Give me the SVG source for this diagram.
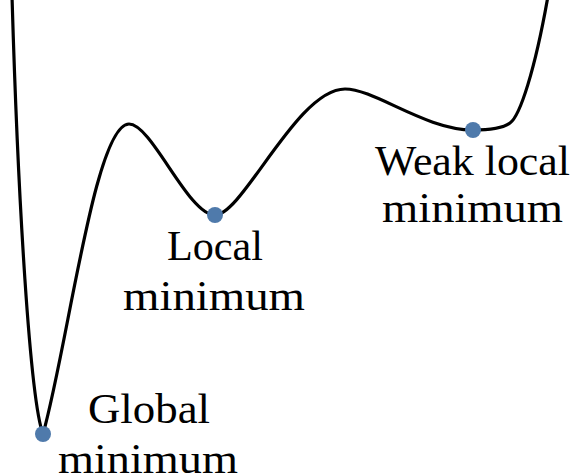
<svg xmlns="http://www.w3.org/2000/svg" width="581" height="476" viewBox="0 0 581 476">
  <style>
    .curve { fill: none; stroke: #000; stroke-width: 3.2; stroke-linecap: round; stroke-linejoin: round; }
    .dot { fill: #4f7aab; }
    .lbl { font-family: "Liberation Serif", "Times New Roman", serif; font-size: 42px; fill: #000; text-anchor: middle; }
  </style>
  <rect width="581" height="476" fill="#fff"/>
  <g id="connectors">
    <path class="curve" d="M12,-4 C18,200 30,400 43,434 C68,345 95,124 129,124 C152,124 188,215 215,215 C243,215 297,89 345,89 C375,89 425,130 473,130 C490,130 503,128 510,123 C520,116 535,70 548,-4"/>
  </g>
  <g id="global-minimum">
    <circle class="dot" cx="43" cy="434" r="8"/>
    <text class="lbl" x="149" y="423" textLength="122" lengthAdjust="spacingAndGlyphs">Global</text>
    <text class="lbl" x="148" y="473" textLength="180" lengthAdjust="spacingAndGlyphs">minimum</text>
  </g>
  <g id="local-minimum">
    <circle class="dot" cx="215" cy="215" r="8"/>
    <text class="lbl" x="215" y="260" textLength="96" lengthAdjust="spacingAndGlyphs">Local</text>
    <text class="lbl" x="214" y="310" textLength="182" lengthAdjust="spacingAndGlyphs">minimum</text>
  </g>
  <g id="weak-local-minimum">
    <circle class="dot" cx="473" cy="130" r="8"/>
    <text class="lbl" x="472.5" y="175" textLength="195" lengthAdjust="spacingAndGlyphs">Weak local</text>
    <text class="lbl" x="472.5" y="222" textLength="181" lengthAdjust="spacingAndGlyphs">minimum</text>
  </g>
</svg>
